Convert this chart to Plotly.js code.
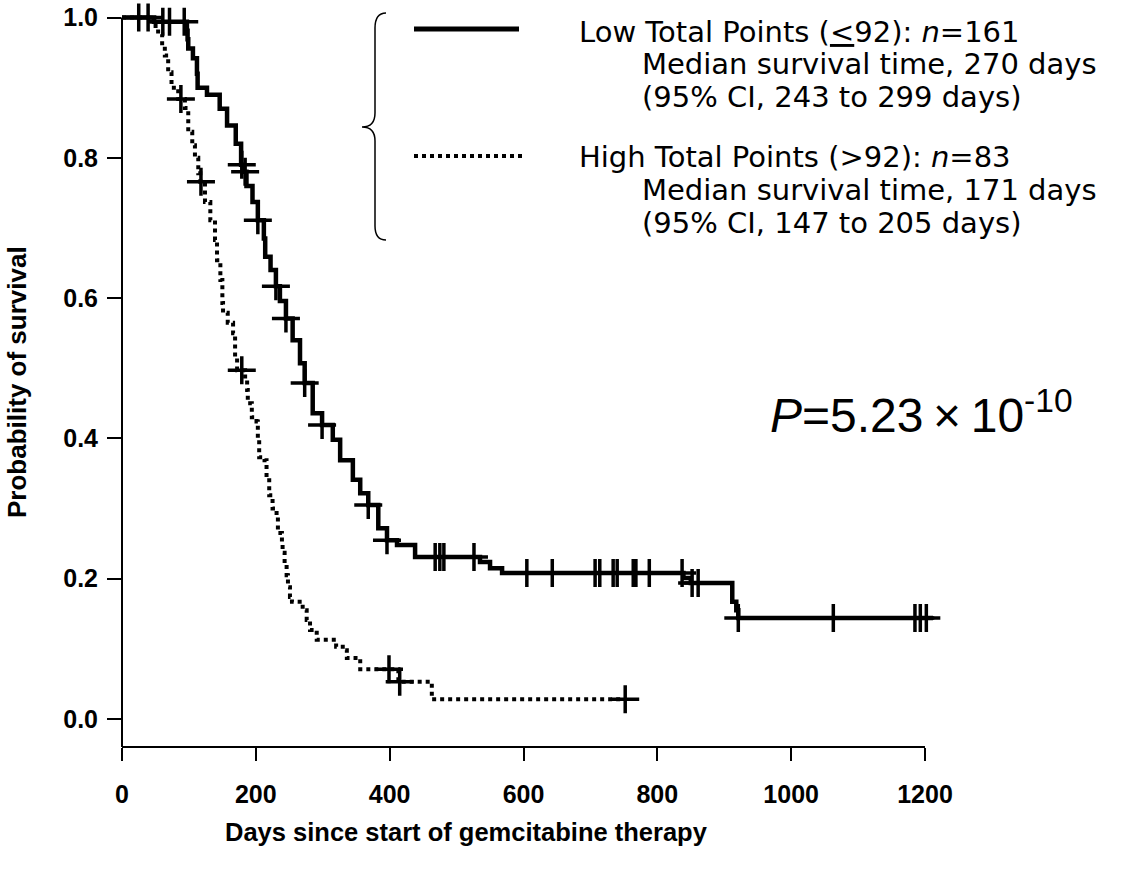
<!DOCTYPE html>
<html>
<head>
<meta charset="utf-8">
<script src="https://cdn.plot.ly/plotly-3.0.1.min.js"></script>
<style>html,body{margin:0;padding:0;background:#fff;} #chart{width:1141px;height:875px;}</style>
</head>
<body>
<div id="chart"></div>
<script>
// ---- data ----
const lowDays = [0, 48, 97, 98, 99, 106, 112, 113, 127, 146, 157, 170, 178, 182, 186, 195, 203, 212, 214, 222, 230, 236, 245, 255, 266, 273, 285, 299, 315, 326, 345, 356, 368, 383, 396, 411, 438, 535, 550, 568, 839, 850, 912, 918, 921, 1212];
const lowSurv = [1.0, 0.994, 0.981, 0.969, 0.956, 0.942, 0.92, 0.90, 0.89, 0.87, 0.846, 0.82, 0.79, 0.78, 0.76, 0.737, 0.711, 0.685, 0.659, 0.64, 0.617, 0.596, 0.571, 0.54, 0.507, 0.479, 0.436, 0.419, 0.398, 0.369, 0.341, 0.322, 0.305, 0.272, 0.255, 0.248, 0.231, 0.224, 0.215, 0.208, 0.201, 0.194, 0.167, 0.155, 0.144, 0.144];
const lowCensDays = [25, 39, 61, 71, 93, 179, 184, 203, 230, 245, 273, 299, 368, 396, 468, 475, 481, 526, 605, 643, 707, 714, 734, 740, 764, 768, 788, 837, 852, 861, 921, 1063, 1185, 1193, 1202];
const lowCensSurv = [1, 1, 0.994, 0.994, 0.994, 0.79, 0.78, 0.711, 0.617, 0.571, 0.479, 0.419, 0.305, 0.255, 0.231, 0.231, 0.231, 0.231, 0.208, 0.208, 0.208, 0.208, 0.208, 0.208, 0.208, 0.208, 0.208, 0.208, 0.194, 0.194, 0.144, 0.144, 0.144, 0.144, 0.144];

const highDays = [0, 45, 54, 60, 64, 69, 74, 84, 94, 99, 105, 109, 114, 117, 124, 132, 139, 142, 147, 150, 151, 158, 166, 169, 172, 184, 187, 188, 194, 201, 203, 205, 213, 216, 220, 225, 231, 233, 239, 240, 243, 246, 248, 251, 254, 270, 276, 281, 291, 320, 333, 336, 356, 413, 463, 752];
const highSurv = [1, 0.988, 0.976, 0.96, 0.946, 0.922, 0.90, 0.884, 0.871, 0.837, 0.818, 0.80, 0.778, 0.766, 0.737, 0.711, 0.683, 0.654, 0.626, 0.593, 0.579, 0.565, 0.55, 0.516, 0.497, 0.483, 0.469, 0.45, 0.43, 0.424, 0.398, 0.373, 0.369, 0.345, 0.319, 0.30, 0.288, 0.265, 0.251, 0.237, 0.222, 0.205, 0.188, 0.174, 0.167, 0.155, 0.141, 0.127, 0.113, 0.103, 0.098, 0.087, 0.071, 0.053, 0.028, 0.028];
const highCensDays = [88, 118, 179, 399, 415, 752];
const highCensSurv = [0.884, 0.766, 0.497, 0.071, 0.053, 0.028];

const xTickVals = [0, 200, 400, 600, 800, 1000, 1200];
const xTickText = ['0', '200', '400', '600', '800', '1000', '1200'];
const yTickVals = [0, 0.2, 0.4, 0.6, 0.8, 1.0];
const yTickText = ['0.0', '0.2', '0.4', '0.6', '0.8', '1.0'];

const legendLines = [
  'Low Total Points (<u>&lt;</u>92): <i>n</i>=161',
  'Median survival time, 270 days',
  '(95% CI, 243 to 299 days)',
  'High Total Points (&gt;92): <i>n</i>=83',
  'Median survival time, 171 days',
  '(95% CI, 147 to 205 days)'
];
const pText = '<i>P</i>=5.23\u2009\u00d7\u200910<sup>-10</sup>';
const xTitle = 'Days since start of gemcitabine therapy';
const yTitle = 'Probability of survival';

// ---- geometry ----
const W = 1141, H = 875;
const L = 122, R = 945, T = 3, B = 747;
const xMax = 1229.9, yMin = -0.0399, yMax = 1.0207;
const px = p => (p - L) / (R - L);
const py = p => (B - p) / (B - T);
const FONT = 'Liberation Sans, Arial, sans-serif';
const LEGFONT = 'DejaVu Sans, Liberation Sans, sans-serif';

const cross = {symbol: 'cross-thin', size: 20, color: 'black', line: {color: 'black', width: 3.5}};

const traces = [
  {x: lowDays, y: lowSurv, mode: 'lines', line: {shape: 'hv', color: 'black', width: 4.5}, hoverinfo: 'skip'},
  {x: highDays, y: highSurv, mode: 'lines', line: {shape: 'hv', color: 'black', width: 4, dash: '4px,4px'}, hoverinfo: 'skip'},
  {x: lowCensDays, y: lowCensSurv, mode: 'markers', marker: cross, cliponaxis: false, hoverinfo: 'skip'},
  {x: highCensDays, y: highCensSurv, mode: 'markers', marker: cross, cliponaxis: false, hoverinfo: 'skip'}
];

const shapes = [
  {type: 'line', xref: 'paper', yref: 'paper', x0: 0, x1: 1200 / xMax, y0: 0, y1: 0, line: {color: 'black', width: 2}},
  {type: 'line', xref: 'paper', yref: 'paper', x0: 0, x1: 0, y0: 0, y1: (1 - yMin) / (yMax - yMin), line: {color: 'black', width: 2}},
  {type: 'line', xref: 'paper', yref: 'paper', x0: px(414), x1: px(519), y0: py(29), y1: py(29), line: {color: 'black', width: 5}},
  {type: 'line', xref: 'paper', yref: 'paper', x0: px(414), x1: px(524), y0: py(156), y1: py(156), line: {color: 'black', width: 4, dash: '4px,4px'}},
  {type: 'path', xref: 'paper', yref: 'paper',
   path: `M${px(386)},${py(13)} Q${px(375)},${py(13)} ${px(375)},${py(28)} L${px(375)},${py(113)} Q${px(375)},${py(127)} ${px(362)},${py(127)} Q${px(375)},${py(127)} ${px(375)},${py(141)} L${px(375)},${py(226)} Q${px(375)},${py(240)} ${px(386)},${py(240)}`,
   line: {color: 'black', width: 1.5}}
];

const legendX = [577, 640, 640, 577, 640, 640];
const legendY = [32, 64, 97, 157, 190, 223];
const annotations = legendLines.map((t, i) => ({
  text: t, xref: 'paper', yref: 'paper', x: px(legendX[i]), y: py(legendY[i]),
  xanchor: 'left', yanchor: 'middle', showarrow: false,
  font: {family: LEGFONT, size: 29, color: 'black'}
}));
annotations.push({text: pText, xref: 'paper', yref: 'paper', x: px(768), y: py(412), xanchor: 'left', yanchor: 'middle', showarrow: false,
  font: {family: FONT, size: 48, color: 'black'}});
annotations.push({text: xTitle, xref: 'paper', yref: 'paper', x: px(466), y: py(832), xanchor: 'center', yanchor: 'middle', showarrow: false,
  font: {family: FONT, size: 25.5, color: 'black', weight: 'bold'}});
annotations.push({text: yTitle, xref: 'paper', yref: 'paper', x: px(17), y: py(382), xanchor: 'center', yanchor: 'middle', showarrow: false, textangle: -90,
  font: {family: FONT, size: 26, color: 'black', weight: 'bold'}});

const layout = {
  width: W, height: H,
  margin: {l: L, r: W - R, t: T, b: H - B, pad: 0},
  paper_bgcolor: 'white', plot_bgcolor: 'white',
  showlegend: false,
  xaxis: {range: [0, xMax], tickvals: xTickVals, ticktext: xTickText, ticks: 'outside', ticklen: 13, tickwidth: 2, tickcolor: 'black',
    showline: false, showgrid: false, zeroline: false, ticklabelstandoff: 12,
    tickfont: {family: FONT, size: 25, color: 'black', weight: 'bold'}},
  yaxis: {range: [yMin, yMax], tickvals: yTickVals, ticktext: yTickText, ticks: 'outside', ticklen: 14, tickwidth: 2, tickcolor: 'black',
    showline: false, showgrid: false, zeroline: false, ticklabelstandoff: 4,
    tickfont: {family: FONT, size: 25, color: 'black', weight: 'bold'}},
  shapes: shapes,
  annotations: annotations
};

Plotly.newPlot('chart', traces, layout, {displayModeBar: false, staticPlot: true});
</script>
</body>
</html>
